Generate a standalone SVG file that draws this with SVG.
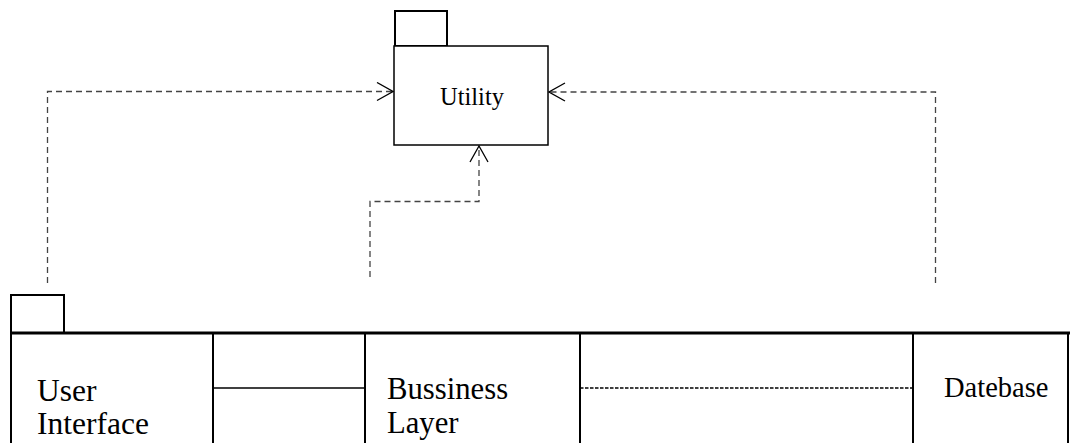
<svg xmlns="http://www.w3.org/2000/svg" width="1070" height="443" viewBox="0 0 1070 443">
  <style>
    .lbl { font-family: "Liberation Serif", "Times New Roman", serif; fill: #000; }
    .frame { fill: none; stroke: #000; stroke-width: 2; }
    .dep { fill: none; stroke: #444; stroke-width: 1.3; stroke-dasharray: 6 4; }
  </style>
  <defs>
    <marker id="open-arrow" viewBox="0 0 18 20" refX="17" refY="10" markerWidth="18" markerHeight="20" markerUnits="userSpaceOnUse" orient="auto">
      <path d="M1,1 L17,10 L1,19" fill="none" stroke="#000" stroke-width="1.3" stroke-dasharray="none"/>
    </marker>
  </defs>

  <rect width="1070" height="443" fill="#fff"/>

  <!-- Utility package -->
  <g id="utility">
    <rect x="395" y="11" width="52" height="35" fill="#fff" stroke="#000" stroke-width="2"/>
    <rect x="394" y="46" width="154" height="99" fill="#fff" stroke="#000" stroke-width="1.5"/>
    <text class="lbl" x="440" y="105" font-size="24.5">Utility</text>
  </g>

  <!-- Layer container package -->
  <g id="layers-package">
    <rect x="11" y="295" width="53" height="38" class="frame"/>
    <line x1="11" y1="333" x2="1070" y2="333" stroke="#000" stroke-width="3"/>
    <line x1="11" y1="333" x2="11" y2="443" class="frame"/>
    <line x1="1068" y1="333" x2="1068" y2="443" class="frame"/>
  </g>

  <g id="user-interface">
    <line x1="213" y1="333" x2="213" y2="443" class="frame"/>
    <text class="lbl" x="37" y="401" font-size="31.5">User</text>
    <text class="lbl" x="37" y="434" font-size="31.5">Interface</text>
  </g>

  <g id="business-layer">
    <line x1="365" y1="333" x2="365" y2="443" class="frame"/>
    <line x1="580" y1="333" x2="580" y2="443" class="frame"/>
    <text class="lbl" x="387" y="399" font-size="30.7">Bussiness</text>
    <text class="lbl" x="387" y="433" font-size="30.7">Layer</text>
  </g>

  <g id="database">
    <line x1="913" y1="333" x2="913" y2="443" class="frame"/>
    <text class="lbl" x="944" y="397" font-size="28.5">Datebase</text>
  </g>

  <!-- Connectors -->
  <g id="connectors">
    <line x1="213" y1="388" x2="365" y2="388" stroke="#000" stroke-width="1.6"/>
    <line x1="580" y1="388" x2="913" y2="388" stroke="#000" stroke-width="1.5" stroke-dasharray="3.5 1.5"/>
    <path class="dep" d="M47.5,283 L47.5,91.5 L393,91.5" marker-end="url(#open-arrow)"/>
    <path class="dep" d="M370,277 L370,201.5 L479,201.5 L479,146" marker-end="url(#open-arrow)"/>
    <path class="dep" d="M935.5,283 L935.5,92 L549,92" marker-end="url(#open-arrow)"/>
  </g>
</svg>
